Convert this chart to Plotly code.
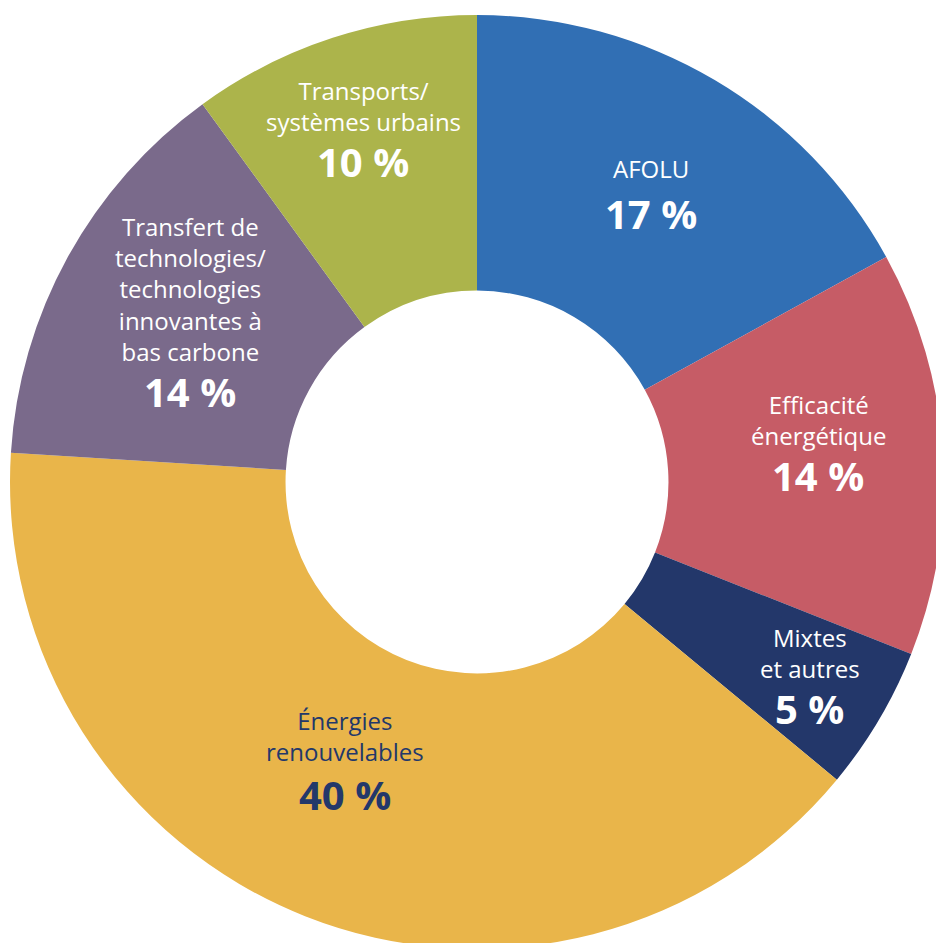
import math
import plotly.graph_objects as go

# ---- data ----
categories = ["AFOLU", "Efficacité énergétique", "Mixtes et autres",
              "Énergies renouvelables",
              "Transfert de technologies/ technologies innovantes à bas carbone",
              "Transports/ systèmes urbains"]
label_lines = ["AFOLU",
               "Efficacité<br>énergétique",
               "Mixtes<br>et autres",
               "Énergies<br>renouvelables",
               "Transfert de<br>technologies/<br>technologies<br>innovantes à<br>bas carbone",
               "Transports/<br>systèmes urbains"]
values = [17, 14, 5, 40, 14, 10]

# ---- style ----
colors = ["#316FB4", "#C65C66", "#23376A", "#E9B54A", "#7A6A8B", "#ACB44B"]
text_colors = ["white", "white", "white", "#23386A", "white", "white"]
label_rfrac = [0.7315, 0.733, 0.835, 0.6745, 0.661, 0.776]
label_dang = [0.0, -1.4, 0.8, 3.2, -7.1, -0.3]
name_up = [1, -2, -2, -2, -2, -2]      # px shift of name block (up positive)
pct_down = [8, 6, 6, 9, 6, 6]          # px shift of percentage (down positive)
FONT = "Open Sans"

W, H = 954, 955
CX, CY, R = 477, 482, 467

fig = go.Figure(go.Pie(
    labels=categories, values=values, sort=False, direction="clockwise",
    rotation=0, hole=0.41, textinfo="none", hoverinfo="label+percent",
    marker=dict(colors=colors, line=dict(width=0)),
    domain=dict(x=[(CX - R) / W, (CX + R) / W],
                y=[(H - CY - R) / H, (H - CY + R) / H]),
    showlegend=False,
))

total = sum(values)
cum = 0
annotations = []
for i, v in enumerate(values):
    mid = (cum + v / 2) / total * 360 + label_dang[i]
    cum += v
    r = label_rfrac[i] * R
    px = CX + r * math.sin(math.radians(mid))
    py = CY - r * math.cos(math.radians(mid))
    xp, yp = px / W, 1 - py / H
    annotations.append(dict(
        x=xp, y=yp, xref="paper", yref="paper", xanchor="center", yanchor="bottom",
        text=label_lines[i], showarrow=False, yshift=name_up[i],
        font=dict(family=FONT, size=24, color=text_colors[i]), align="center"))
    annotations.append(dict(
        x=xp, y=yp, xref="paper", yref="paper", xanchor="center", yanchor="top",
        text=f"<b>{v} %</b>", showarrow=False, yshift=12 - pct_down[i],
        font=dict(family=FONT, size=40, color=text_colors[i]), align="center"))

fig.update_layout(width=W, height=H, margin=dict(l=0, r=0, t=0, b=0),
                  paper_bgcolor="white", plot_bgcolor="white",
                  annotations=annotations)

fig.write_html("out.html", config={"displayModeBar": False},
               post_script="document.body.style.overflow='hidden';document.body.style.margin='0';")
